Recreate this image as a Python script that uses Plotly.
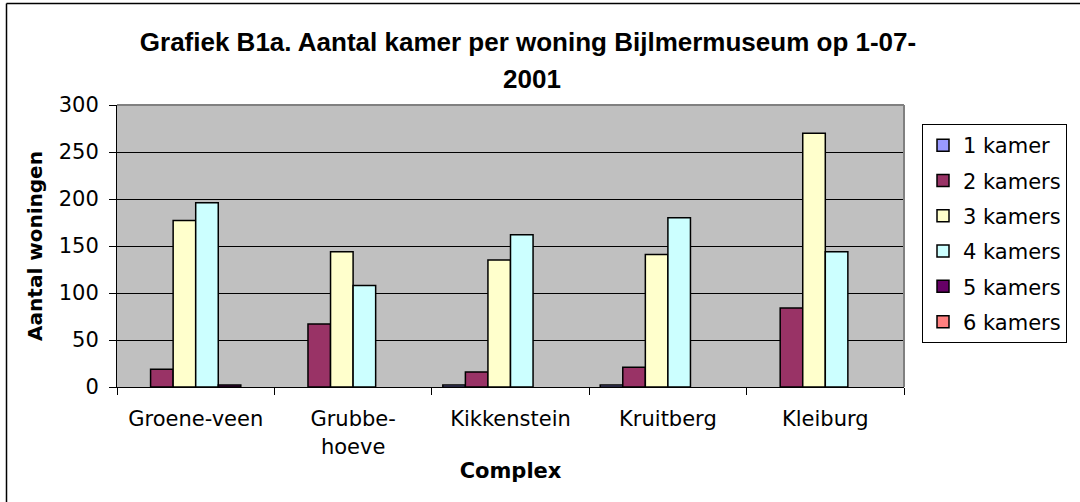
import plotly.graph_objects as go

categories = ["Groene-veen", "Grubbe-<br>hoeve", "Kikkenstein", "Kruitberg", "Kleiburg"]
series_names = ["1 kamer", "2 kamers", "3 kamers", "4 kamers", "5 kamers", "6 kamers"]
kamer1 = [None, None, 2, 2, None]
kamer2 = [19, 67, 16, 21, 84]
kamer3 = [177, 144, 135, 141, 270]
kamer4 = [196, 108, 162, 180, 144]
kamer5 = [2, None, None, None, None]
kamer6 = [None, None, None, None, None]
series_values = [kamer1, kamer2, kamer3, kamer4, kamer5, kamer6]
colors = ["#9999FF", "#993366", "#FFFFCC", "#CCFFFF", "#660066", "#FF8080"]
y_ticks = [0, 50, 100, 150, 200, 250, 300]
title_line1 = "Grafiek B1a. Aantal kamer per woning Bijlmermuseum op 1-07-"
title_line2 = "2001"

W, H = 1080, 502
ML, MR, MT, MB = 117, 176, 105, 115
PW, PH = W - ML - MR, H - MT - MB

FONT = "DejaVu Sans"
TFONT = "Liberation Sans, Arial, sans-serif"

fig = go.Figure()
for i, (name, vals) in enumerate(zip(series_names, series_values)):
    fig.add_trace(go.Bar(
        x=categories, y=vals, name=name, legendgroup=name,
        marker=dict(color=colors[i], line=dict(color="black", width=1.5)),
    ))

def px_x(p):
    return (p - ML) / PW

def px_y(p):
    return (H - MB - p) / PH

shapes = [
    # outer chart border (left and top visible in frame)
    dict(type="line", xref="paper", yref="paper",
         x0=px_x(6.5), x1=px_x(6.5), y0=px_y(505), y1=px_y(3.5),
         line=dict(color="black", width=1.5), layer="above"),
    dict(type="line", xref="paper", yref="paper",
         x0=px_x(6.5), x1=px_x(1085), y0=px_y(3.5), y1=px_y(3.5),
         line=dict(color="black", width=1.5), layer="above"),
    # plot area top and right border (gray)
    dict(type="line", xref="paper", yref="paper", x0=0, x1=1, y0=1, y1=1,
         line=dict(color="#808080", width=2), layer="above"),
    dict(type="line", xref="paper", yref="paper", x0=1, x1=1, y0=0, y1=1,
         line=dict(color="#808080", width=2), layer="above"),
]

annotations = [
    dict(text="<b>" + title_line2 + "</b>", xref="paper", yref="paper",
         x=px_x(532), y=px_y(79), xanchor="center", yanchor="middle",
         showarrow=False, font=dict(family=TFONT, size=26, color="black")),
]

fig.update_layout(
    width=W, height=H,
    margin=dict(l=ML, r=MR, t=MT, b=MB, autoexpand=False),
    paper_bgcolor="white", plot_bgcolor="#C0C0C0",
    font=dict(family=FONT, size=21, color="black"),
    title=dict(
        text="<b>" + title_line1 + "</b>",
        x=528 / W, xanchor="center", xref="container",
        y=1 - 42 / H, yanchor="middle", yref="container",
        font=dict(family=TFONT, size=26, color="black"),
    ),
    barmode="group", bargap=0.14, bargroupgap=0,
    legend=dict(
        x=px_x(922), xanchor="left", y=px_y(124), yanchor="top",
        bgcolor="white", bordercolor="black", borderwidth=1,
        font=dict(family=FONT, size=21, color="black"),
        tracegroupgap=5,
    ),
    xaxis=dict(
        title=dict(text="<b>Complex</b>", font=dict(family=FONT, size=21), standoff=5),
        showline=True, linecolor="black", linewidth=1,
        ticks="outside", ticklen=7, tickcolor="black", tickson="boundaries",
        showgrid=False, tickfont=dict(family=FONT, size=21),
        ticklabelstandoff=13,
    ),
    yaxis=dict(
        title=dict(text="<b>Aantal woningen</b>", font=dict(family=FONT, size=20), standoff=10),
        range=[0, 300], tickvals=y_ticks,
        showline=True, linecolor="black", linewidth=1,
        ticks="outside", ticklen=7, tickcolor="black",
        showgrid=True, gridcolor="black", gridwidth=1,
        zeroline=False, tickfont=dict(family=FONT, size=21),
        ticklabelstandoff=6,
    ),
    shapes=shapes,
    annotations=annotations,
    showlegend=True,
)

fig.write_html(
    "out.html",
    config={"displayModeBar": False},
    post_script="document.body.style.margin='0';document.body.style.padding='0';",
)
